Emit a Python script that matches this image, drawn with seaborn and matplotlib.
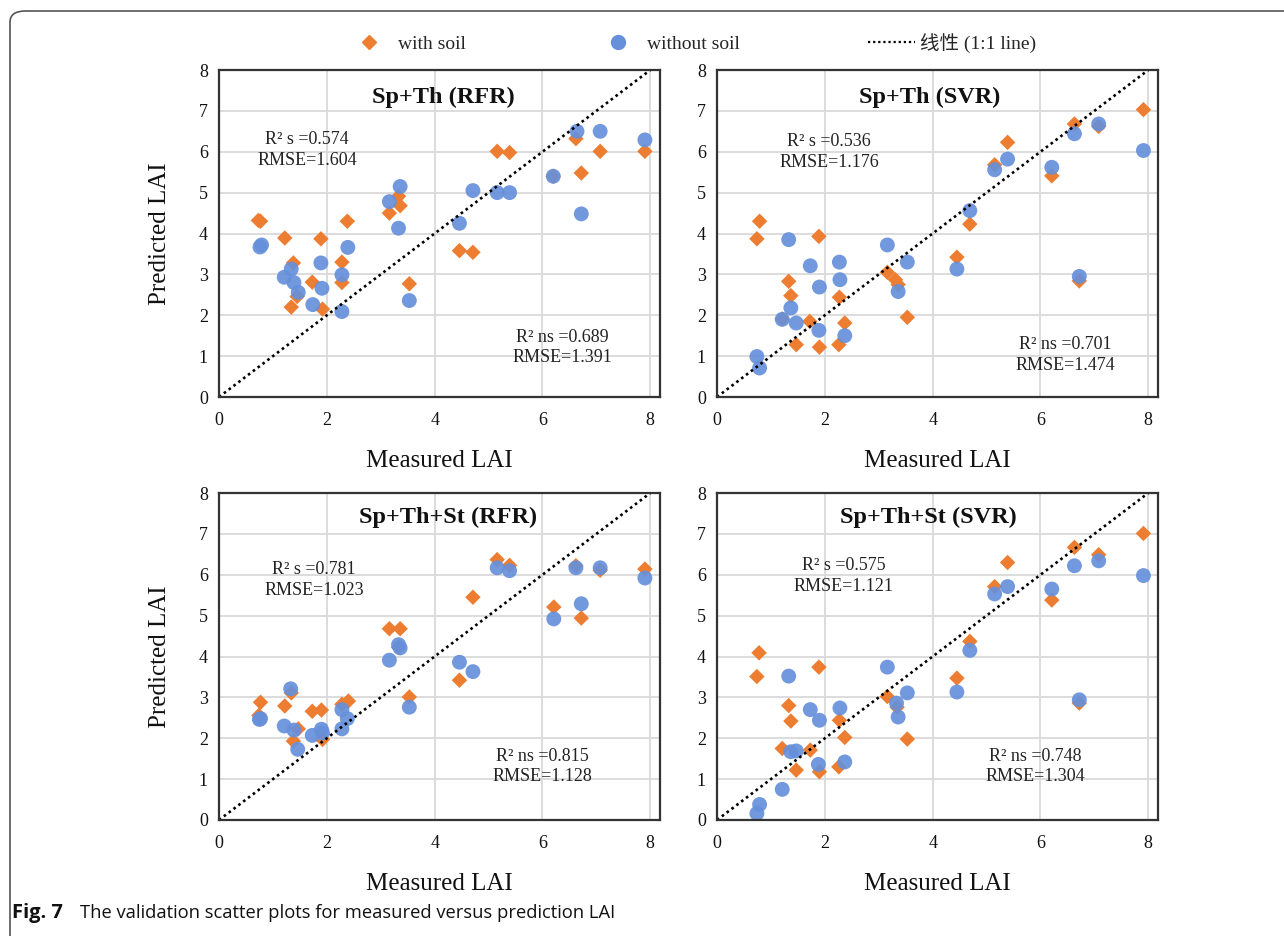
import matplotlib
matplotlib.use("Agg")
import matplotlib.pyplot as plt
import seaborn as sns
import pandas as pd
from matplotlib.lines import Line2D
from matplotlib.patches import FancyBboxPatch
from matplotlib.font_manager import FontProperties

# ---------------- data ----------------
panel_titles = ["Sp+Th (RFR)", "Sp+Th (SVR)", "Sp+Th+St (RFR)", "Sp+Th+St (SVR)"]
stats_s = ["R\u00b2 s =0.574\nRMSE=1.604", "R\u00b2 s =0.536\nRMSE=1.176",
           "R\u00b2 s =0.781\nRMSE=1.023", "R\u00b2 s =0.575\nRMSE=1.121"]
stats_ns = ["R\u00b2 ns =0.689\nRMSE=1.391", "R\u00b2 ns =0.701\nRMSE=1.474",
            "R\u00b2 ns =0.815\nRMSE=1.128", "R\u00b2 ns =0.748\nRMSE=1.304"]
series_labels = ["with soil", "without soil", "\u7ebf\u6027 (1:1 line)"]
x_ticks = [0, 2, 4, 6, 8]
y_ticks = [0, 1, 2, 3, 4, 5, 6, 7, 8]
line_x = [0, 8]
line_y = [0, 8]

# Sp+Th (RFR)
rfr1_soil_x = [0.77, 1.22, 1.89, 2.38, 1.38, 2.28, 1.73, 2.28, 1.45, 1.34, 1.92, 3.33, 3.36, 3.16,
               3.53, 4.46, 4.71, 5.16, 5.39, 6.62, 6.72, 6.20, 7.07, 7.90, 0.73]
rfr1_soil_y = [4.30, 3.89, 3.87, 4.30, 3.28, 3.30, 2.81, 2.80, 2.46, 2.20, 2.15, 4.91, 4.68, 4.50,
               2.77, 3.58, 3.54, 6.01, 5.98, 6.32, 5.48, 5.40, 6.01, 6.01, 4.32]
rfr1_nosoil_x = [0.76, 0.79, 1.21, 1.34, 1.39, 1.47, 1.74, 1.89, 1.91, 2.28, 2.28, 2.39, 3.16,
                 3.36, 3.33, 3.53, 4.46, 4.71, 5.16, 5.39, 6.20, 6.64, 7.07, 7.90, 6.72]
rfr1_nosoil_y = [3.67, 3.72, 2.93, 3.13, 2.80, 2.56, 2.26, 3.28, 2.66, 2.99, 2.09, 3.66, 4.78,
                 5.15, 4.13, 2.36, 4.25, 5.05, 5.00, 5.00, 5.40, 6.50, 6.50, 6.29, 4.48]

# Sp+Th (SVR)
svr1_soil_x = [0.79, 0.74, 1.89, 1.33, 1.37, 1.21, 1.72, 1.47, 1.90, 2.27, 2.37, 2.26, 3.16,
               3.31, 3.36, 3.53, 4.45, 4.69, 5.15, 5.39, 6.21, 6.63, 6.72, 7.08, 7.91]
svr1_soil_y = [4.30, 3.87, 3.93, 2.83, 2.48, 1.91, 1.85, 1.28, 1.22, 2.44, 1.81, 1.28, 3.05,
               2.87, 2.75, 1.95, 3.42, 4.23, 5.68, 6.23, 5.41, 6.68, 2.84, 6.62, 7.03]
svr1_nosoil_x = [0.74, 0.79, 1.33, 1.73, 1.37, 1.21, 1.47, 1.90, 1.89, 2.27, 2.28, 2.37, 3.16,
                 3.53, 3.36, 4.45, 4.69, 5.15, 5.39, 6.21, 6.63, 6.72, 7.08, 7.91]
svr1_nosoil_y = [0.99, 0.71, 3.85, 3.21, 2.18, 1.90, 1.81, 2.69, 1.63, 3.30, 2.87, 1.50, 3.72,
                 3.30, 2.58, 3.13, 4.56, 5.56, 5.82, 5.62, 6.44, 2.95, 6.68, 6.03]

# Sp+Th+St (RFR)
rfr2_soil_x = [0.77, 0.74, 1.22, 1.34, 1.38, 1.47, 1.73, 1.90, 1.92, 2.28, 2.40, 3.16, 3.36,
               3.33, 3.53, 4.46, 4.71, 5.16, 5.39, 6.21, 6.62, 6.72, 7.07, 7.90]
rfr2_soil_y = [2.88, 2.56, 2.79, 3.11, 1.93, 2.23, 2.66, 2.69, 1.97, 2.83, 2.91, 4.68, 4.68,
               4.22, 3.01, 3.42, 5.45, 6.37, 6.23, 5.21, 6.22, 4.94, 6.11, 6.14]
rfr2_nosoil_x = [0.75, 0.77, 1.21, 1.33, 1.39, 1.46, 1.73, 1.90, 1.92, 2.28, 2.28, 2.38, 3.16,
                 3.33, 3.36, 3.53, 4.46, 4.71, 5.16, 5.39, 6.21, 6.62, 6.72, 7.07, 7.90]
rfr2_nosoil_y = [2.46, 2.48, 2.30, 3.21, 2.20, 1.73, 2.07, 2.22, 2.13, 2.70, 2.23, 2.48, 3.91,
                 4.29, 4.21, 2.76, 3.86, 3.63, 6.17, 6.10, 4.92, 6.17, 5.29, 6.17, 5.92]

# Sp+Th+St (SVR)
svr2_soil_x = [0.78, 0.74, 1.89, 1.33, 1.37, 1.21, 1.73, 1.47, 1.90, 2.27, 2.37, 2.26, 3.16,
               3.34, 3.53, 4.45, 4.69, 5.15, 5.39, 6.21, 6.63, 6.72, 7.08, 7.91]
svr2_soil_y = [4.09, 3.51, 3.74, 2.80, 2.42, 1.75, 1.71, 1.22, 1.18, 2.44, 2.02, 1.30, 3.02,
               2.76, 1.98, 3.47, 4.37, 5.71, 6.30, 5.38, 6.67, 2.86, 6.49, 7.01]
svr2_nosoil_x = [0.74, 0.79, 1.21, 1.33, 1.37, 1.47, 1.73, 1.90, 1.88, 2.28, 2.37, 3.16, 3.33,
                 3.36, 3.53, 4.45, 4.69, 5.15, 5.39, 6.21, 6.63, 6.72, 7.08, 7.91]
svr2_nosoil_y = [0.16, 0.38, 0.75, 3.52, 1.67, 1.69, 2.70, 2.44, 1.36, 2.74, 1.42, 3.74, 2.86,
                 2.52, 3.11, 3.13, 4.15, 5.53, 5.71, 5.65, 6.22, 2.94, 6.34, 5.98]

panel_data = [
    (rfr1_soil_x, rfr1_soil_y, rfr1_nosoil_x, rfr1_nosoil_y),
    (svr1_soil_x, svr1_soil_y, svr1_nosoil_x, svr1_nosoil_y),
    (rfr2_soil_x, rfr2_soil_y, rfr2_nosoil_x, rfr2_nosoil_y),
    (svr2_soil_x, svr2_soil_y, svr2_nosoil_x, svr2_nosoil_y),
]

# ---------------- style ----------------
sns.set_style("white")
plt.rcParams["font.family"] = ["Liberation Serif", "Noto Sans CJK SC", "DejaVu Sans"]

ORANGE = "#ED7D31"
BLUE = "#6690DA"
GRID = "#d9d9d9"
FRAME = "#333333"

W, H = 1284, 936
fig = plt.figure(figsize=(W / 100, H / 100), dpi=100)

# axes positions (pixels: left, top, right, bottom)
boxes = [(219, 70, 660, 397), (717, 70, 1158, 397),
         (219, 493, 660, 820), (717, 493, 1158, 820)]
title_pos = [(4.16, 7.33), (3.95, 7.33), (4.25, 7.41), (3.93, 7.41)]
s_pos = [(1.63, 6.05), (2.08, 5.99), (1.76, 5.87), (2.35, 5.98)]
ns_pos = [(6.37, 1.21), (6.46, 1.02), (6.0, 1.31), (5.91, 1.31)]

for i, (l, t, r, b) in enumerate(boxes):
    ax = fig.add_axes([l / W, 1 - b / H, (r - l) / W, (b - t) / H])
    sx, sy, nx, ny = panel_data[i]
    df_s = pd.DataFrame({"x": sx, "y": sy})
    df_n = pd.DataFrame({"x": nx, "y": ny})
    sns.lineplot(x=line_x, y=line_y, ax=ax, color="black", lw=1.9,
                 linestyle=(0, (1, 1.3)), zorder=4)
    sns.scatterplot(data=df_s, x="x", y="y", ax=ax, marker="D", s=62,
                    color=ORANGE, edgecolor="none", zorder=3)
    sns.scatterplot(data=df_n, x="x", y="y", ax=ax, marker="o", s=115,
                    color=BLUE, edgecolor="none", alpha=0.92, zorder=3)
    ax.set_xlim(0, 8.18)
    ax.set_ylim(0, 8)
    ax.set_xticks(x_ticks)
    ax.set_yticks(y_ticks)
    ax.grid(True, color=GRID, lw=1.3, zorder=0)
    ax.set_axisbelow(True)
    for sp in ax.spines.values():
        sp.set_color(FRAME)
        sp.set_linewidth(1.6)
        sp.set_zorder(5)
    ax.tick_params(axis="both", length=0, labelsize=13, colors="#111111")
    ax.tick_params(axis="x", pad=11)
    ax.tick_params(axis="y", pad=8)
    ax.set_xlabel("Measured LAI", fontsize=18, color="#111111", labelpad=15)
    if i % 2 == 0:
        ax.set_ylabel("Predicted LAI", fontsize=18, color="#111111", labelpad=20)
    else:
        ax.set_ylabel("")
    ax.text(title_pos[i][0], title_pos[i][1], panel_titles[i], ha="center", va="center",
            fontsize=17.5, fontweight="bold", color="#111111", zorder=6)
    ax.text(s_pos[i][0], s_pos[i][1], stats_s[i], ha="center", va="center",
            fontsize=13, color="#222222", linespacing=1.3, zorder=6)
    ax.text(ns_pos[i][0], ns_pos[i][1], stats_ns[i], ha="center", va="center",
            fontsize=13, color="#222222", linespacing=1.3, zorder=6)

# legend
handles = [
    Line2D([], [], marker="D", color=ORANGE, linestyle="none", markersize=7.5),
    Line2D([], [], marker="o", color=BLUE, linestyle="none", markersize=10),
    Line2D([], [], color="black", lw=1.6, linestyle=(0, (1, 1.3))),
]
leg = fig.legend(handles, series_labels, loc="center", ncol=3,
                 bbox_to_anchor=(691 / W, 1 - 43 / H), frameon=False,
                 prop=FontProperties(family=["Liberation Serif", "Noto Sans CJK SC"], size=14),
                 columnspacing=6.6, handlelength=2.4, handletextpad=0.3,
                 borderpad=0, borderaxespad=0)

# outer rounded border
border = FancyBboxPatch((10 / W, -20 / H), 1.2, (H - 11 + 20) / H,
                        boxstyle="round,pad=0,rounding_size=0.012",
                        transform=fig.transFigure, fill=False,
                        edgecolor="#555555", lw=1.2, clip_on=False)
fig.patches.append(border)

# caption
fig.text(12 / W, 1 - 913 / H, "Fig. 7", fontsize=14.5, fontweight="bold",
         family="Open Sans", ha="left", va="center", color="#111111")
fig.text(80 / W, 1 - 913 / H, "The validation scatter plots for measured versus prediction LAI",
         fontsize=13.2, family="Open Sans", ha="left", va="center", color="#111111")

fig.savefig("out.png", dpi=100)
